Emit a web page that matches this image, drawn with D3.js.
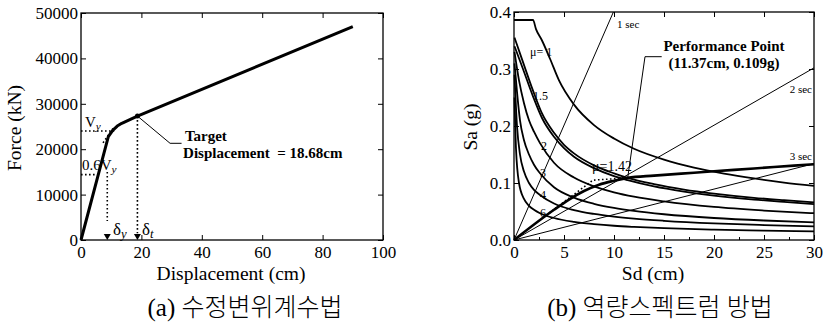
<!DOCTYPE html>
<html>
<head>
<meta charset="utf-8">
<script src="https://cdn.jsdelivr.net/npm/d3@7/dist/d3.min.js"></script>
<style>
body { margin: 0; background: #fff; }
text { font-family: "Liberation Serif", "Times New Roman", serif; fill: #000; }
.cap { font-family: "Liberation Serif", "Noto Sans CJK KR", serif; font-weight: 300; }
</style>
</head>
<body>
<svg id="fig" width="824" height="333"></svg>
<script>
// ---- (a) pushover curve data ----
const pushDisp  = [0, 9.05, 10.5, 12, 13.5, 18.68, 90];             // cm
const pushForce = [0, 22750, 24150, 25100, 25700, 27300, 47000];    // kN
const VY = 24000, VY06 = 14400, DELTA_Y = 8.7, DELTA_T = 18.68;
const leftXTicks = [0, 20, 40, 60, 80, 100];
const leftYTicks = [0, 10000, 20000, 30000, 40000, 50000];

// ---- (b) capacity spectrum data (Sd cm, Sa g) ----
const demandMu1   = [[0,0.386],[1.9,0.386],[2.2,0.37],[2.8,0.35],[3.6,0.318],[4.5,0.28],[6,0.2375],[8,0.2016],[10,0.178],[12,0.16],[15,0.141],[18,0.127],[21,0.1165],[24,0.108],[27,0.1008],[30,0.095]];
const demandMu142 = [[0.05,0.355],[0.9,0.312],[1.9,0.262],[2.8,0.222],[4,0.188],[5,0.167],[6,0.152],[8,0.131],[10,0.117],[11.37,0.109],[14,0.098],[17,0.0885],[20,0.0814],[24,0.074],[27,0.0698],[30,0.066]];
const demandMu15  = [[0.05,0.34],[0.9,0.3],[1.9,0.252],[2.8,0.214],[4,0.181],[5,0.161],[6,0.146],[8,0.126],[10,0.112],[11.37,0.105],[14,0.094],[17,0.085],[20,0.078],[24,0.071],[27,0.067],[30,0.063]];
const demandMu2   = [[0.05,0.33],[0.5,0.28],[1,0.24],[1.5,0.21],[2,0.19],[2.6,0.17],[4,0.1355],[6,0.1095],[8,0.094],[10,0.0837],[12,0.076],[15,0.0677],[20,0.058],[25,0.0517],[30,0.047]];
const demandMu3   = [[0.05,0.31],[0.3,0.26],[0.6,0.21],[1,0.175],[1.5,0.15],[2,0.132],[2.6,0.117],[4,0.0925],[6,0.0743],[8,0.0635],[10,0.0563],[12,0.051],[15,0.0452],[20,0.0386],[25,0.0342],[30,0.031]];
const demandMu4   = [[0.05,0.29],[0.3,0.2],[0.6,0.15],[1,0.12],[1.5,0.1],[2,0.088],[2.6,0.079],[4,0.064],[6,0.0525],[8,0.0457],[10,0.041],[12,0.0375],[15,0.0337],[20,0.0292],[25,0.0262],[30,0.024]];
const demandMu6   = [[0.05,0.25],[0.2,0.16],[0.5,0.1],[1,0.072],[1.5,0.06],[2,0.053],[2.6,0.047],[4,0.0386],[6,0.0319],[8,0.0279],[10,0.025],[12,0.023],[15,0.0207],[20,0.0181],[25,0.0164],[30,0.015]];
const capacity    = [[0,0],[4,0.053],[5.5,0.071],[7,0.086],[8.5,0.097],[10,0.104],[11.37,0.109],[14,0.113],[18,0.118],[22,0.123],[26,0.128],[30,0.133]];
const bilinear    = [[3.5,0.047],[7.9,0.105],[11.37,0.109]];
const period1 = [[0,0],[9.94,0.4]];
const period2 = [[0,0],[30,0.302]];
const period3 = [[0,0],[30,0.134]];
const PERF = [11.37, 0.109];
const rightXTicks = [0, 5, 10, 15, 20, 25, 30];
const rightYTicks = [0, 0.1, 0.2, 0.3, 0.4];

const svg = d3.select("#fig");

// generic framed axes
function frame(g, x, y, xt, yt, yfmt) {
  const x0 = x.range()[0], x1 = x.range()[1], y0 = y.range()[0], y1 = y.range()[1];
  g.append("g").attr("transform", `translate(0,${y0})`)
    .call(d3.axisBottom(x).tickValues(xt).tickSizeInner(-5).tickSizeOuter(0).tickPadding(6))
    .call(a => a.selectAll("text").style("font-size", "17px"));
  g.append("g").attr("transform", `translate(${x0},0)`)
    .call(d3.axisLeft(y).tickValues(yt).tickFormat(yfmt).tickSizeInner(-5).tickSizeOuter(0).tickPadding(3))
    .call(a => a.selectAll("text").style("font-size", "17px"));
  g.append("g").attr("transform", `translate(0,${y1})`)
    .call(d3.axisTop(x).tickValues(xt).tickSizeInner(-5).tickSizeOuter(0).tickFormat(""));
  g.append("g").attr("transform", `translate(${x1},0)`)
    .call(d3.axisRight(y).tickValues(yt).tickSizeInner(-5).tickSizeOuter(0).tickFormat(""));
  g.selectAll(".domain").remove();
  g.selectAll(".tick line").attr("stroke", "#000").attr("stroke-width", 1);
  g.append("rect").attr("x", x0).attr("y", y1).attr("width", x1 - x0).attr("height", y0 - y1)
    .attr("fill", "none").attr("stroke", "#000").attr("stroke-width", 1.3);
}

function arrowDown(g, px, py) {
  g.append("path").attr("d", `M${px},${py} L${px - 3.5},${py - 6} L${px + 3.5},${py - 6} Z`).attr("fill", "#000");
}

// ================= (a) =================
const gA = svg.append("g");
const xA = d3.scaleLinear().domain([0, 100]).range([81, 383]);
const yA = d3.scaleLinear().domain([0, 50000]).range([240, 13]);
frame(gA, xA, yA, leftXTicks, leftYTicks, d3.format("d"));

const lineA = d3.line().x(d => xA(d[0])).y(d => yA(d[1]));
const pushPts = pushDisp.map((d, i) => [d, pushForce[i]]);

// dotted helper lines
const dots = { fill: "none", stroke: "#000", "stroke-width": 1.6, "stroke-dasharray": "1.6,2.4" };
function dotted(g, line, pts) {
  const p = g.append("path").attr("d", line(pts));
  Object.entries(dots).forEach(([k, v]) => p.attr(k, v));
}
dotted(gA, lineA, [[0, VY], [11, VY]]);
dotted(gA, lineA, [[0, VY06], [5.2, VY06]]);
dotted(gA, lineA, [[7.3, 21400], [10.6, 24600]]);
dotted(gA, lineA, [[DELTA_Y, 15000], [DELTA_Y, 4200]]);
dotted(gA, lineA, [[DELTA_T, 27300], [DELTA_T, 1500]]);
arrowDown(gA, xA(DELTA_Y), yA(0));
arrowDown(gA, xA(DELTA_T), yA(0));

gA.append("path").attr("d", lineA(pushPts))
  .attr("fill", "none").attr("stroke", "#000").attr("stroke-width", 3).attr("stroke-linejoin", "round");
gA.append("circle").attr("cx", xA(DELTA_T)).attr("cy", yA(27300)).attr("r", 2.5);

// leader line
gA.append("path").attr("d", lineA([[DELTA_T, 27300], [29.5, 21300], [33.3, 21300]]))
  .attr("fill", "none").attr("stroke", "#000").attr("stroke-width", 1);
gA.append("text").attr("x", xA(34.4)).attr("y", yA(21800)).style("font-size", "15px").style("font-weight", "bold").text("Target");
gA.append("text").attr("x", xA(33.8)).attr("y", yA(18060)).style("font-size", "15px").style("font-weight", "bold")
  .attr("xml:space", "preserve").text("Displacement  = 18.68cm");

function subLabel(g, x, y, main, sub, size) {
  const t = g.append("text").attr("x", x).attr("y", y).style("font-size", size + "px");
  t.append("tspan").text(main);
  t.append("tspan").attr("dy", 3).style("font-size", (size * 0.75) + "px").style("font-style", "italic").text(sub);
}
subLabel(gA, xA(1.3), yA(24900), "V", "y", 15);
subLabel(gA, xA(0.3), yA(15400), "0.6V", "y", 15);
subLabel(gA, xA(10.6), yA(1200), "δ", "y", 17);
subLabel(gA, xA(20.2), yA(1200), "δ", "t", 17);

gA.append("text").attr("transform", `translate(21,128) rotate(-90)`).attr("text-anchor", "middle")
  .style("font-size", "19.5px").text("Force (kN)");
gA.append("text").attr("x", 231).attr("y", 280).attr("text-anchor", "middle")
  .style("font-size", "19.5px").text("Displacement (cm)");

// ================= (b) =================
const gB = svg.append("g");
const xB = d3.scaleLinear().domain([0, 30]).range([514, 814]);
const yB = d3.scaleLinear().domain([0, 0.4]).range([240, 12]);
frame(gB, xB, yB, rightXTicks, rightYTicks, d3.format(".1f"));
// minor ticks on bottom
gB.append("g").attr("transform", `translate(0,240)`)
  .call(d3.axisBottom(xB).tickValues(d3.range(2.5, 30, 5)).tickSizeInner(-3).tickSizeOuter(0).tickFormat(""))
  .call(a => a.select(".domain").remove());

const lineB = d3.line().x(d => xB(d[0])).y(d => yB(d[1]));
const curveB = d3.line().x(d => xB(d[0])).y(d => yB(d[1])).curve(d3.curveMonotoneX);

[period1, period2, period3].forEach(p => {
  gB.append("path").attr("d", lineB(p)).attr("fill", "none").attr("stroke", "#000").attr("stroke-width", 1);
});
[demandMu1, demandMu142, demandMu15, demandMu2, demandMu3, demandMu4, demandMu6].forEach(c => {
  gB.append("path").attr("d", curveB(c)).attr("fill", "none").attr("stroke", "#000").attr("stroke-width", 1.8);
});
gB.append("path").attr("d", curveB(capacity)).attr("fill", "none").attr("stroke", "#000").attr("stroke-width", 2.6);
dotted(gB, lineB, bilinear);

gB.append("path").attr("d", lineB([PERF, [13.1, 0.3216], [14.77, 0.3216]]))
  .attr("fill", "none").attr("stroke", "#000").attr("stroke-width", 1);

function lab(g, x, y, txt, size, anchor, bold) {
  g.append("text").attr("x", x).attr("y", y).attr("text-anchor", anchor || "start")
    .style("font-size", size + "px").style("font-weight", bold ? "bold" : "normal").text(txt);
}
lab(gB, xB(10.3), yB(0.372), "1 sec", 11);
lab(gB, xB(29.8), yB(0.258), "2 sec", 11, "end");
lab(gB, xB(29.8), yB(0.140), "3 sec", 11, "end");
lab(gB, xB(1.6), yB(0.323), "μ= 1", 12);
lab(gB, xB(1.9), yB(0.246), "1.5", 12);
lab(gB, xB(2.7), yB(0.158), "2", 12);
lab(gB, xB(2.6), yB(0.111), "3", 12);
lab(gB, xB(2.6), yB(0.072), "4", 12);
lab(gB, xB(2.6), yB(0.040), "6", 12);
lab(gB, xB(7.8), yB(0.121), "μ=1.42", 14);
lab(gB, xB(21), yB(0.332), "Performance Point", 15, "middle", true);
lab(gB, xB(21), yB(0.302), "(11.37cm, 0.109g)", 15, "middle", true);

gB.append("text").attr("transform", `translate(477,127) rotate(-90)`).attr("text-anchor", "middle")
  .style("font-size", "19.5px").text("Sa (g)");
gB.append("text").attr("x", 653).attr("y", 280).attr("text-anchor", "middle")
  .style("font-size", "19.5px").text("Sd (cm)");

// ---- captions ----
svg.append("text").attr("class", "cap").attr("x", 245).attr("y", 316).attr("text-anchor", "middle")
  .style("font-size", "25px").text("(a) 수정변위계수법");
svg.append("text").attr("class", "cap").attr("x", 660).attr("y", 316).attr("text-anchor", "middle")
  .style("font-size", "25px").text("(b) 역량스펙트럼 방법");
</script>
</body>
</html>
